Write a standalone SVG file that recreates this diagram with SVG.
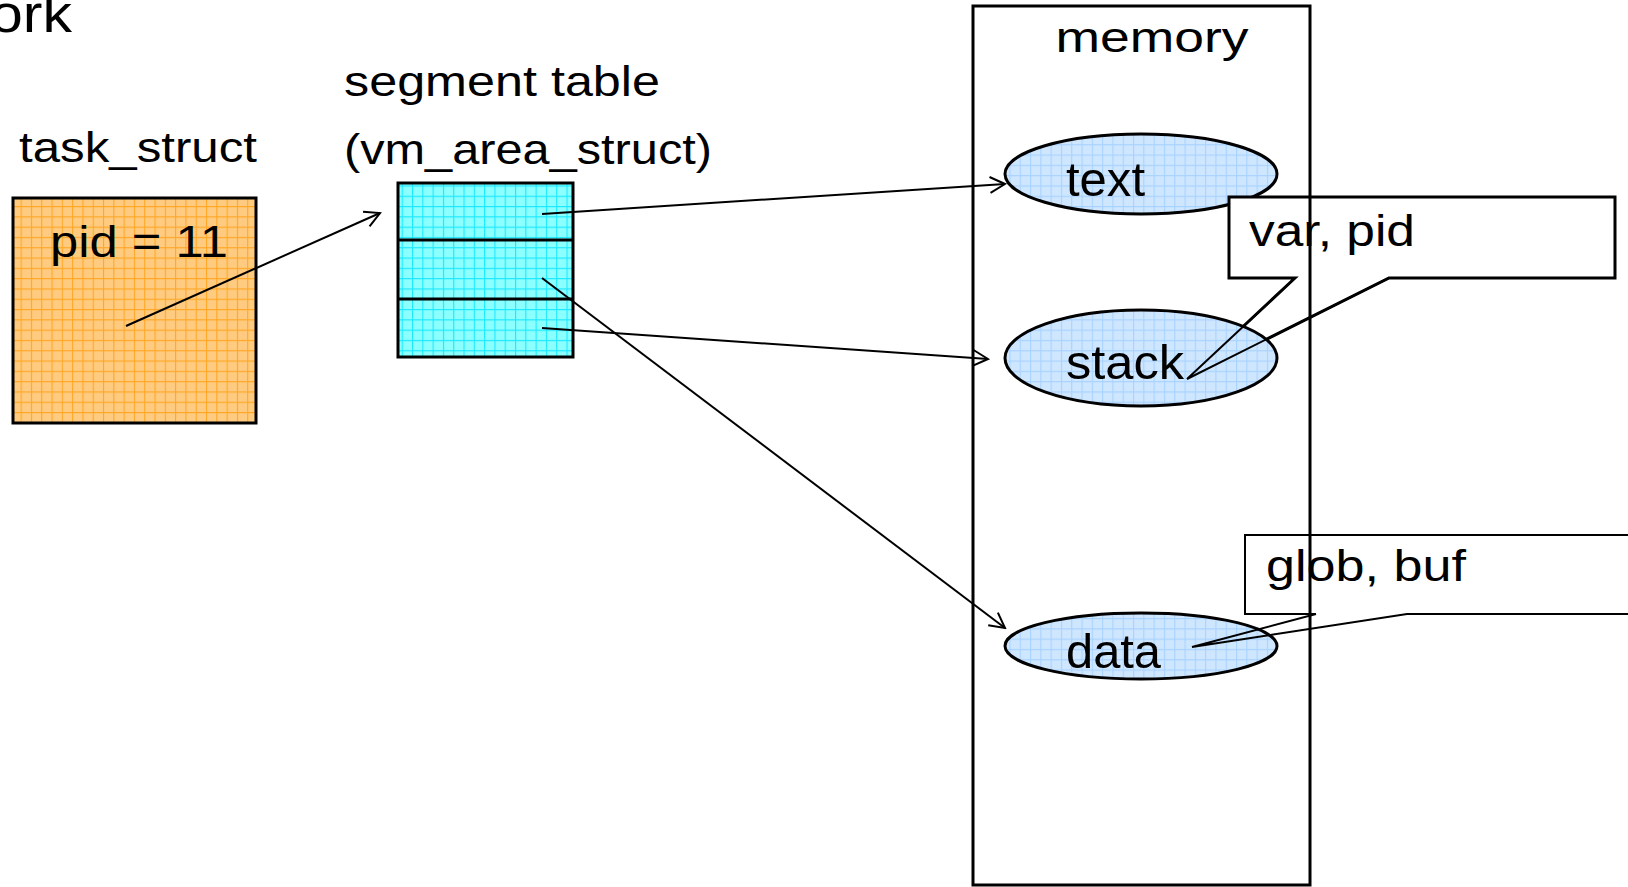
<svg xmlns="http://www.w3.org/2000/svg" width="1628" height="887" viewBox="0 0 1628 887">
<style>
  text { font-family: "Liberation Sans", Arial, sans-serif; fill: #000; }
  .lbl { font-size: 42px; }
  .el { font-size: 48px; }
  .line { stroke: #000; stroke-width: 2; fill: none; }
  .box { stroke: #000; stroke-width: 3; }
</style>
<defs>
  <pattern id="gOrange" width="10.3" height="10.3" patternUnits="userSpaceOnUse">
    <rect width="10.3" height="10.3" fill="#FFCB80"/>
    <path d="M0 0.5H10.3M0.5 0V10.3" stroke="#FFA726" stroke-width="1.2"/>
  </pattern>
  <pattern id="gCyan" width="10.3" height="10.3" patternUnits="userSpaceOnUse">
    <rect width="10.3" height="10.3" fill="#8CFFFF"/>
    <path d="M0 0.5H10.3M0.5 0V10.3" stroke="#1CE8FF" stroke-width="1.2"/>
  </pattern>
  <pattern id="gBlue" width="10.3" height="10.3" patternUnits="userSpaceOnUse">
    <rect width="10.3" height="10.3" fill="#CFE6FF"/>
    <path d="M0 0.5H10.3M0.5 0V10.3" stroke="#A8D3FF" stroke-width="1.2"/>
  </pattern>
  <marker id="arr" viewBox="0 0 20 20" refX="18" refY="10" markerWidth="20" markerHeight="20" markerUnits="userSpaceOnUse" orient="auto">
    <path d="M3 2 L18 10 L3 18" fill="none" stroke="#000" stroke-width="2"/>
  </marker>
</defs>

<g id="title">
  <text x="72" y="32" font-size="54" text-anchor="end" textLength="82" lengthAdjust="spacingAndGlyphs">ork</text>
</g>

<g id="task_struct">
  <text class="lbl" x="19" y="162" textLength="238" lengthAdjust="spacingAndGlyphs">task_struct</text>
  <rect class="box" x="13" y="198" width="243" height="225" fill="url(#gOrange)"/>
  <text x="50" y="257" font-size="44" textLength="178" lengthAdjust="spacingAndGlyphs">pid = 11</text>
</g>

<g id="segment_table">
  <text class="lbl" x="344" y="96" textLength="316" lengthAdjust="spacingAndGlyphs">segment table</text>
  <text class="lbl" x="344" y="164" textLength="368" lengthAdjust="spacingAndGlyphs">(vm_area_struct)</text>
  <rect class="box" x="398" y="183" width="175" height="174" fill="url(#gCyan)"/>
  <line class="box" x1="398" y1="240" x2="573" y2="240"/>
  <line class="box" x1="398" y1="299" x2="573" y2="299"/>
</g>

<g id="text_seg">
  <ellipse class="box" cx="1141" cy="174" rx="136" ry="40" fill="url(#gBlue)"/>
  <text class="el" x="1066" y="196" textLength="79" lengthAdjust="spacingAndGlyphs">text</text>
</g>

<g id="callout_var">
  <rect x="1229" y="197" width="386" height="81" fill="#fff"/>
  <path class="box" d="M1295 278 L1187 379 L1389 278 H1615 V197 H1229 V278 Z" fill="none" stroke-width="2.5"/>
  <text x="1249" y="246" font-size="44" textLength="166" lengthAdjust="spacingAndGlyphs">var, pid</text>
</g>

<g id="stack_seg">
  <ellipse class="box" cx="1141" cy="358" rx="136" ry="48" fill="url(#gBlue)"/>
  <text class="el" x="1066" y="379" textLength="118" lengthAdjust="spacingAndGlyphs">stack</text>
  <path class="line" d="M1295 278 L1187 379 L1389 278" stroke-width="2.5"/>
</g>

<g id="data_seg">
  <ellipse class="box" cx="1141" cy="646" rx="136" ry="33" fill="url(#gBlue)"/>
  <text class="el" x="1066" y="668" textLength="95" lengthAdjust="spacingAndGlyphs">data</text>
</g>

<g id="callout_glob">
  <rect x="1245" y="535" width="400" height="79" fill="#fff"/>
  <path class="line" d="M1316 614 L1192 647 L1407 614 H1640 M1640 535 H1245 V614 H1316" stroke-width="2.5"/>
  <text x="1266" y="581" font-size="44" textLength="200" lengthAdjust="spacingAndGlyphs">glob, buf</text>
</g>

<g id="memory">
  <rect x="973" y="6" width="337" height="879" fill="none" stroke="#000" stroke-width="3"/>
  <text class="lbl" x="1152" y="52" text-anchor="middle" textLength="193" lengthAdjust="spacingAndGlyphs">memory</text>
</g>

<g id="connectors">
  <line class="line" x1="126" y1="326" x2="380" y2="213" marker-end="url(#arr)"/>
  <line class="line" x1="542" y1="214" x2="1005" y2="184" marker-end="url(#arr)"/>
  <line class="line" x1="542" y1="278" x2="1005" y2="628" marker-end="url(#arr)"/>
  <line class="line" x1="542" y1="328" x2="988" y2="359" marker-end="url(#arr)"/>
</g>
</svg>
